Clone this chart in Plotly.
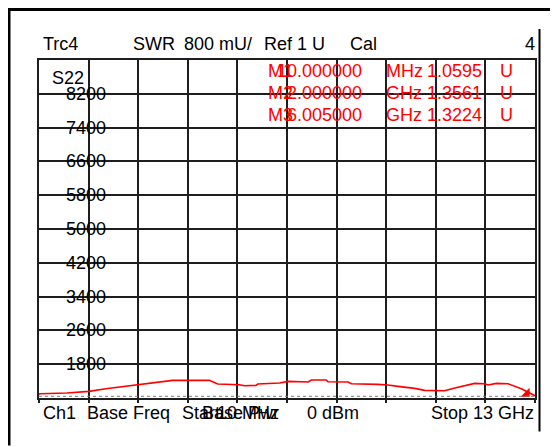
import plotly.graph_objects as go

# ---------------- data ----------------
freq_ghz = [0.01, 0.036, 0.74, 1.32, 1.76, 2.55, 3.12, 3.51, 4.47, 4.69, 5.26, 5.39,
            5.69, 5.74, 6.31, 6.53, 7.06, 7.14, 7.53, 7.58, 8.10, 8.19, 8.89, 9.15,
            9.41, 9.85, 10.11, 10.63, 10.90, 11.16, 11.42, 11.68, 11.77, 11.99, 12.29,
            12.64, 13.0]
swr_mu = [1090, 1102, 1118, 1156, 1220, 1315, 1370, 1417, 1417, 1331, 1315, 1291,
          1299, 1331, 1355, 1393, 1379, 1426, 1426, 1386, 1379, 1339, 1322, 1308,
          1275, 1227, 1180, 1173, 1237, 1299, 1346, 1339, 1308, 1346, 1339,
          1220, 1055]
stop_marker_f = [12.78]
stop_marker_v = [1102]

y_ticks = [8200, 7400, 6600, 5800, 5000, 4200, 3400, 2600, 1800]
y_tick_labels = ["8200", "7400", "6600", "5800", "5000", "4200", "3400", "2600", "1800"]

marker_names = ["M1", "M2", "M3"]
marker_freqs = ["10.000000", "2.000000", "6.005000"]
marker_units = ["MHz", "GHz", "GHz"]
marker_vals = ["1.0595", "1.3561", "1.3224"]

f_start, f_stop = 0.01, 13.0
y_min, y_max, y_div = 1000, 9000, 800

# ---------------- layout geometry (screen pixels; page body adds 8 px) ----------------
OFF = 8
W, H = 558 - OFF, 447 - OFF
SL, SR, ST, SB = 39, 535, 60, 398.5     # graticule edges on screen
L, R, T, B = SL - OFF, SR - OFF, ST - OFF, SB - OFF

FONT = "Liberation Sans, Arial, sans-serif"
FS = 18


def px(sx):
    return (sx - OFF - L) / (R - L)


def py(sy):
    return (B - (sy - OFF)) / (B - T)


fig = go.Figure()
fig.add_trace(go.Scatter(x=freq_ghz, y=swr_mu, mode="lines",
                         line=dict(color="#ff0000", width=1.6),
                         hoverinfo="skip", showlegend=False))
fig.add_trace(go.Scatter(x=stop_marker_f, y=stop_marker_v, mode="markers",
                         marker=dict(symbol="triangle-se", size=10, color="#ff0000",
                                     line=dict(width=0)),
                         hoverinfo="skip", showlegend=False))

ann = []


def text(s, x, y, anchor="left", color="black"):
    ann.append(dict(text=s, x=px(x), xref="paper", y=py(y), yref="paper",
                    xanchor=anchor, yanchor="middle", showarrow=False,
                    font=dict(family=FONT, size=FS, color=color)))


# top row
text("Trc4", 41, 44)
text("SWR", 131, 44)
text("800 mU/", 182, 44)
text("Ref 1 U", 262, 44)
text("Cal", 348, 44)
text("4", 537, 44, anchor="right")

# marker readout
rows_y = [71, 93, 115]
for i in range(3):
    text(marker_names[i], 266, rows_y[i], color="#ff0000")
    text(marker_freqs[i], 364, rows_y[i], anchor="right", color="#ff0000")
    text(marker_units[i], 384, rows_y[i], color="#ff0000")
    text(marker_vals[i], 425, rows_y[i], color="#ff0000")
    text("U", 498, rows_y[i], color="#ff0000")

# trace name
text("S22", 50, 78)

# y labels drawn inside the graticule
for v, lab in zip(y_ticks, y_tick_labels):
    ann.append(dict(text=lab, x=px(86), xref="paper", y=v, yref="y",
                    xanchor="center", yanchor="middle", showarrow=False,
                    font=dict(family=FONT, size=FS, color="black")))

# bottom row
text("Ch1", 41, 414)
text("Base Freq", 85, 414)
text("Start", 180, 414)
text("Base Pwr", 200, 414)
text("10 MHz", 215, 414)
text("0 dBm", 305, 414)
text("Stop", 429, 414)
text("13 GHz", 536, 414, anchor="right")

DX, DY = "x domain", "y domain"
shapes = [
    dict(type="line", xref=DX, yref=DY, x0=px(9), x1=px(9), y0=py(8), y1=py(446),
         line=dict(color="black", width=3)),
    dict(type="line", xref=DX, yref=DY, x0=px(539.5), x1=px(539.5), y0=py(29), y1=py(432),
         line=dict(color="black", width=2)),
    dict(type="line", xref=DX, yref=DY, x0=0, x1=1, y0=py(396.8), y1=py(396.8),
         line=dict(color="#777777", width=1, dash="dot")),
]
# top rule of the outer frame, drawn as short contiguous pieces
seg_edges = list(range(8, 558, 70)) + [557]
for a, b in zip(seg_edges[:-1], seg_edges[1:]):
    shapes.append(dict(type="line", xref=DX, yref=DY, x0=px(a), x1=px(b + 0.5),
                       y0=py(9.5), y1=py(9.5), line=dict(color="black", width=3)))

grid_color = "#1e1e1e"
fig.update_layout(
    width=W, height=H,
    margin=dict(l=L, r=W - R, t=T, b=H - B),
    paper_bgcolor="white", plot_bgcolor="white",
    xaxis=dict(range=[f_start, f_stop], tick0=f_start, dtick=(f_stop - f_start) / 10,
               showgrid=True, gridcolor=grid_color, gridwidth=1.5,
               showline=True, linecolor=grid_color, linewidth=1.5, mirror=True,
               ticks="outside", ticklen=3, tickcolor=grid_color, tickwidth=1.5,
               showticklabels=False, zeroline=False, fixedrange=True),
    yaxis=dict(range=[y_min, y_max], tick0=y_min, dtick=y_div,
               showgrid=True, gridcolor=grid_color, gridwidth=1.5,
               showline=True, linecolor=grid_color, linewidth=1.5, mirror=True,
               ticks="", showticklabels=False, zeroline=False, fixedrange=True),
    annotations=ann,
    shapes=shapes,
    showlegend=False,
)

fig.write_html("out.html")
